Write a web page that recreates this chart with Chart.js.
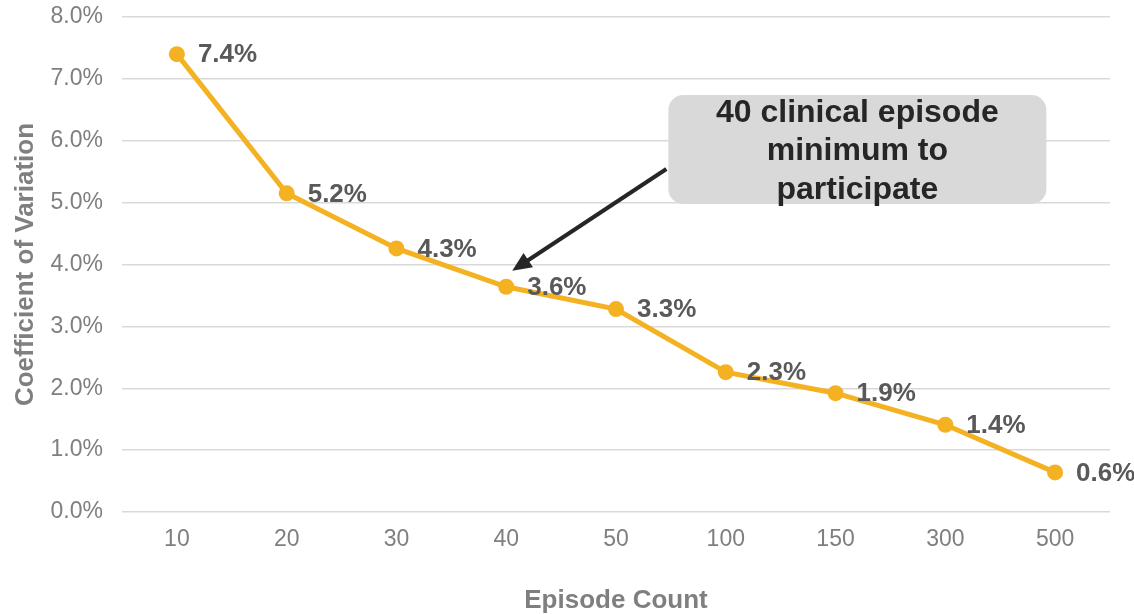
<!DOCTYPE html>
<html>
<head>
<meta charset="utf-8">
<script src="https://cdn.jsdelivr.net/npm/chart.js@4.4.0/dist/chart.umd.min.js"></script>
<style>
  html, body { margin: 0; padding: 0; background: #fff; }
  #wrap { width: 1134px; height: 614px; }
</style>
</head>
<body>
<div id="wrap"><canvas id="cv"></canvas></div>
<script>
// episode counts on x, coefficient of variation (%) on y
var episodeCounts = ["10", "20", "30", "40", "50", "100", "150", "300", "500"];
var cvValues = [7.40, 5.15, 4.26, 3.64, 3.28, 2.26, 1.92, 1.41, 0.64];
var cvLabels = ["7.4%", "5.2%", "4.3%", "3.6%", "3.3%", "2.3%", "1.9%", "1.4%", "0.6%"];
var calloutLines = ["40 clinical episode", "minimum to", "participate"];
var calloutIndex = 3;

var FONT = "'Liberation Sans', Arial, sans-serif";

var pointLabels = {
    id: "pointLabels",
    afterDatasetsDraw: function(chart) {
        var ctx = chart.ctx;
        var meta = chart.getDatasetMeta(0);
        ctx.save();
        ctx.font = "bold 26px " + FONT;
        ctx.fillStyle = "#595959";
        ctx.textAlign = "left";
        ctx.textBaseline = "middle";
        meta.data.forEach(function(pt, i) {
            ctx.fillText(cvLabels[i], pt.x + 21, pt.y + 1);
        });
        ctx.restore();
    }
};

var callout = {
    id: "callout",
    afterDraw: function(chart) {
        var ctx = chart.ctx;
        var area = chart.chartArea;
        var pt = chart.getDatasetMeta(0).data[calloutIndex];
        var bx = area.left + (area.right - area.left) * 0.553;
        var by = area.top + 78;
        var bw = 378, bh = 109, r = 15;
        ctx.save();
        // arrow
        var sx = bx - 2, sy = by + 74;
        var tx = pt.x + 6, ty = pt.y - 16;
        var ang = Math.atan2(ty - sy, tx - sx);
        var head = 21;
        ctx.strokeStyle = "#262626";
        ctx.fillStyle = "#262626";
        ctx.lineWidth = 4;
        ctx.beginPath();
        ctx.moveTo(sx, sy);
        ctx.lineTo(tx - Math.cos(ang) * head * 0.8, ty - Math.sin(ang) * head * 0.8);
        ctx.stroke();
        ctx.beginPath();
        ctx.moveTo(tx, ty);
        ctx.lineTo(tx - head * Math.cos(ang - 0.42), ty - head * Math.sin(ang - 0.42));
        ctx.lineTo(tx - head * Math.cos(ang + 0.42), ty - head * Math.sin(ang + 0.42));
        ctx.closePath();
        ctx.fill();
        // box
        ctx.fillStyle = "#d9d9d9";
        ctx.beginPath();
        ctx.roundRect(bx, by, bw, bh, r);
        ctx.fill();
        ctx.fillStyle = "#262626";
        ctx.font = "bold 32px " + FONT;
        ctx.textAlign = "center";
        ctx.textBaseline = "middle";
        calloutLines.forEach(function(line, i) {
            ctx.fillText(line, bx + bw / 2, by + 18 + i * 38.5);
        });
        ctx.restore();
    }
};

new Chart(document.getElementById("cv").getContext("2d"), {
    type: "line",
    data: {
        labels: episodeCounts,
        datasets: [{
            data: cvValues,
            borderColor: "#f4b122",
            backgroundColor: "#f4b122",
            borderWidth: 5,
            pointRadius: 8,
            pointHoverRadius: 8,
            pointBackgroundColor: "#f4b122",
            pointBorderWidth: 0,
            tension: 0,
            fill: false
        }]
    },
    options: {
        responsive: true,
        maintainAspectRatio: false,
        animation: false,
        events: [],
        layout: { padding: { top: 17, right: 24, left: 0, bottom: 0 } },
        plugins: {
            legend: { display: false },
            tooltip: { enabled: false }
        },
        scales: {
            x: {
                offset: true,
                grid: { display: false, drawTicks: false },
                border: { display: false },
                ticks: { color: "#7f7f7f", font: { family: FONT, size: 23 }, padding: 14 },
                title: {
                    display: true,
                    text: "Episode Count",
                    color: "#7f7f7f",
                    font: { family: FONT, size: 26, weight: "bold", lineHeight: 1 },
                    padding: { top: 35, bottom: 0 }
                },
                afterFit: function(s) {
                    s.height = 102;
                    s.paddingLeft = 0;
                    s.paddingRight = 0;
                }
            },
            y: {
                min: 0,
                max: 8,
                ticks: {
                    stepSize: 1,
                    color: "#7f7f7f",
                    font: { family: FONT, size: 23 },
                    padding: 19,
                    callback: function(v) { return v.toFixed(1) + "%"; }
                },
                grid: { color: "#d9d9d9", lineWidth: 1.5, drawTicks: false },
                border: { display: false },
                title: {
                    display: true,
                    text: "Coefficient of Variation",
                    color: "#7f7f7f",
                    font: { family: FONT, size: 26, weight: "bold" },
                    padding: { top: 10, bottom: 0 }
                },
                afterFit: function(s) {
                    s.width = 122;
                    s.paddingTop = 0;
                    s.paddingBottom = 0;
                }
            }
        }
    },
    plugins: [pointLabels, callout]
});
</script>
</body>
</html>
